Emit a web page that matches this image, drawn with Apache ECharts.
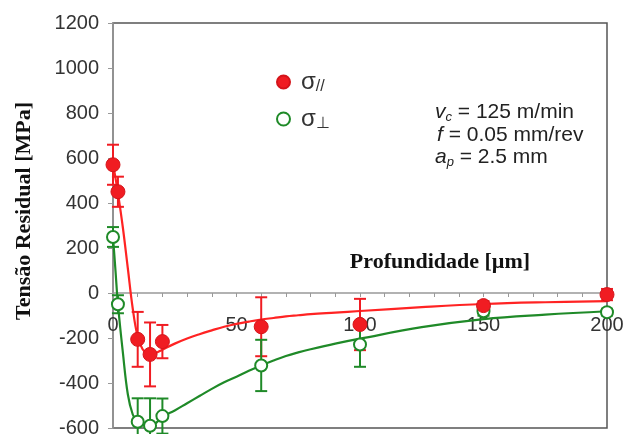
<!DOCTYPE html>
<html>
<head>
<meta charset="utf-8">
<script src="https://cdn.jsdelivr.net/npm/echarts@6/dist/echarts.min.js"></script>
<style>
  html, body { margin: 0; padding: 0; background: #fff; }
  #chart { width: 623px; height: 434px; }
</style>
</head>
<body>
<div id="chart"></div>
<script>
// medidas (profundidade em µm, tensão em MPa)
const depthPar = [0, 2, 10, 15, 20, 60, 100, 150, 200];
const sigmaPar = [570, 450, -206, -273, -216, -150, -140, -56, -7];
const errPar = [89, 67, 122, 142, 74, 131, 114, 20, 25];

const depthPerp = [0, 2, 10, 15, 20, 60, 100, 150, 200];
const sigmaPerp = [249, -50, -572, -590, -547, -322, -229, -81, -85];
const errPerp = [44, 40, 104, 122, 78, 114, 99, 20, 15];

// curvas de ajuste
const fitDepth = [0, 1, 2, 4, 6, 8, 10, 12, 14, 16, 18, 20, 25, 30, 35, 40, 45, 50, 55, 60, 65, 70, 75, 80, 90, 100, 125, 150, 175, 200];
const fitPar = [572, 512, 445, 290, 110, -70, -195, -250, -270, -272, -263, -252, -225, -202, -183, -166, -150, -137, -127, -118, -111, -104, -99, -94, -87, -80, -63, -49, -41, -36];
const fitPerp = [249, 100, -50, -265, -450, -540, -575, -587, -590, -588, -572, -550, -522, -490, -458, -426, -397, -372, -346, -322, -300, -280, -264, -250, -225, -203, -152, -116, -96, -81];

const yMin = -600, yMax = 1200, yStep = 200;

const zip = (a, b, c) => a.map((v, i) => c ? [v, b[i], c[i]] : [v, b[i]]);

function errorBar(color) {
    return function (params, api) {
        const x = api.value(0), y = api.value(1), e = api.value(2);
        const top = api.coord([x, y + e]);
        const bot = api.coord([x, y - e]);
        const w = 6;
        const style = { stroke: color, lineWidth: 2 };
        return {
            type: 'group',
            children: [
                { type: 'line', shape: { x1: top[0], y1: top[1], x2: bot[0], y2: bot[1] }, style: style },
                { type: 'line', shape: { x1: top[0] - w, y1: top[1], x2: top[0] + w, y2: top[1] }, style: style },
                { type: 'line', shape: { x1: bot[0] - w, y1: bot[1], x2: bot[0] + w, y2: bot[1] }, style: style }
            ]
        };
    };
}

const red = '#f01c22';
const green = '#1f8a28';
const sans = '"Liberation Sans", Arial, sans-serif';
const serif = '"Liberation Serif", "Times New Roman", serif';

const gridTop = 23, gridHeight = 405;
// eixo x desenhado na linha do zero
const zeroOffset = -gridHeight * (0 - yMin) / (yMax - yMin);

const chart = echarts.init(document.getElementById('chart'));

const option = {
    animation: false,
    grid: {
        left: 113, right: 16, top: gridTop, height: gridHeight,
        outerBoundsMode: 'none',
        containLabel: false,
        show: true, borderColor: '#555', borderWidth: 1.5
    },
    legend: {
        orient: 'vertical',
        left: 271, top: 64,
        itemWidth: 13, itemHeight: 13, itemGap: 11,
        data: [{ name: 'σ//', icon: 'circle' }, { name: 'σ⊥', icon: 'emptyCircle' }],
        formatter: function (name) {
            return '{s|σ}{sub|' + name.slice(1) + '}';
        },
        textStyle: {
            color: '#333',
            rich: {
                s: { fontFamily: sans, fontSize: 24, lineHeight: 26, padding: [0, 0, 0, 6], color: '#333' },
                sub: { fontFamily: sans, fontSize: 16, lineHeight: 26, verticalAlign: 'bottom', color: '#333', padding: [10, 0, 0, 0] }
            }
        }
    },
    xAxis: {
        type: 'value',
        min: 0, max: 200, interval: 10,
        offset: zeroOffset,
        axisLine: { onZero: false, lineStyle: { color: '#999', width: 1.5 } },
        axisTick: { show: true, length: 4, lineStyle: { color: '#999' } },
        axisLabel: {
            margin: 22,
            color: '#333',
            fontFamily: sans, fontSize: 20,
            showMinLabel: true, showMaxLabel: true,
            formatter: v => (v % 50 === 0 ? String(v) : '')
        },
        splitLine: { show: false }
    },
    yAxis: {
        type: 'value',
        min: yMin, max: yMax, interval: yStep,
        axisLine: { show: true, lineStyle: { color: '#999', width: 1.5 } },
        axisTick: { show: true, length: 5, lineStyle: { color: '#999' } },
        axisLabel: { margin: 14, color: '#333', fontFamily: sans, fontSize: 20, formatter: v => String(v) },
        splitLine: { show: false }
    },
    graphic: [
        {
            type: 'text', x: 24, y: 211, rotation: Math.PI / 2,
            style: {
                text: 'Tensão Residual [MPa]', fill: '#111',
                font: 'bold 22px ' + serif, textAlign: 'center', textVerticalAlign: 'middle'
            }
        },
        {
            type: 'text', x: 440, y: 262,
            style: {
                text: 'Profundidade [µm]', fill: '#111',
                font: 'bold 22px ' + serif, textAlign: 'center', textVerticalAlign: 'middle'
            }
        },
        {
            type: 'text', x: 435, y: 112,
            style: {
                text: '{i|v}{is|c}{t| = 125 m/min}',
                textVerticalAlign: 'middle',
                rich: {
                    i: { fontFamily: sans, fontStyle: 'italic', fontSize: 21, fill: '#222', lineHeight: 24 },
                    is: { fontFamily: sans, fontStyle: 'italic', fontSize: 13, fill: '#222', lineHeight: 24, padding: [10, 0, 0, 0] },
                    t: { fontFamily: sans, fontSize: 21, fill: '#222', lineHeight: 24 }
                }
            }
        },
        {
            type: 'text', x: 437, y: 135,
            style: {
                text: '{i|f}{t| = 0.05 mm/rev}',
                textVerticalAlign: 'middle',
                rich: {
                    i: { fontFamily: sans, fontStyle: 'italic', fontSize: 21, fill: '#222', lineHeight: 24 },
                    t: { fontFamily: sans, fontSize: 21, fill: '#222', lineHeight: 24 }
                }
            }
        },
        {
            type: 'text', x: 435, y: 157,
            style: {
                text: '{i|a}{is|p}{t| = 2.5 mm}',
                textVerticalAlign: 'middle',
                rich: {
                    i: { fontFamily: sans, fontStyle: 'italic', fontSize: 21, fill: '#222', lineHeight: 24 },
                    is: { fontFamily: sans, fontStyle: 'italic', fontSize: 13, fill: '#222', lineHeight: 24, padding: [10, 0, 0, 0] },
                    t: { fontFamily: sans, fontSize: 21, fill: '#222', lineHeight: 24 }
                }
            }
        }
    ],
    series: [
        {
            name: 'fitPar', type: 'line', data: zip(fitDepth, fitPar),
            smooth: 0.4, showSymbol: false, z: 2,
            lineStyle: { color: '#ff2323', width: 2.2 }
        },
        {
            name: 'fitPerp', type: 'line', data: zip(fitDepth, fitPerp),
            smooth: 0.4, showSymbol: false, z: 2,
            lineStyle: { color: green, width: 2.2 }
        },
        {
            name: 'errPar', type: 'custom', renderItem: errorBar(red),
            data: zip(depthPar, sigmaPar, errPar), z: 3, encode: { x: 0, y: 1 }
        },
        {
            name: 'errPerp', type: 'custom', renderItem: errorBar(green),
            data: zip(depthPerp, sigmaPerp, errPerp), z: 3, encode: { x: 0, y: 1 }
        },
        {
            name: 'σ//', type: 'scatter', data: zip(depthPar, sigmaPar),
            symbol: 'circle', symbolSize: 14, z: 5, clip: false,
            itemStyle: { color: red, borderColor: '#d4141a', borderWidth: 1, opacity: 1 }
        },
        {
            name: 'σ⊥', type: 'scatter', data: zip(depthPerp, sigmaPerp),
            symbol: 'emptyCircle', symbolSize: 12, z: 4, clip: false,
            itemStyle: { color: green, borderColor: green, borderWidth: 2.5, opacity: 1 }
        }
    ]
};

chart.setOption(option);
window.onresize = () => chart.resize();
</script>
</body>
</html>
